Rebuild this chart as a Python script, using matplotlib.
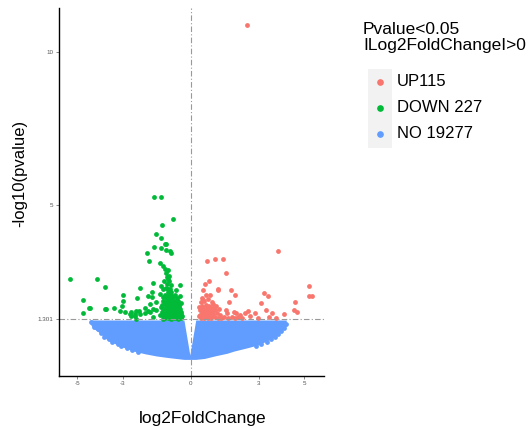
import matplotlib
matplotlib.use('Agg')
import matplotlib.pyplot as plt
from matplotlib.lines import Line2D
from matplotlib.patches import Rectangle

plt.rcParams['font.family'] = ['Liberation Sans', 'DejaVu Sans']

# significant down-regulated genes (log2FC, -log10 p)
down_x = [-5.32, -4.14, -3.77, -4.73, -4.73, -4.48, -4.42, -3.79, -3.71, -3.39,
          -3.13, -3.01, -2.98, -3.00, -2.91, -2.69, -2.37, -2.39, -2.25, -2.22,
          -2.03, -1.86, -1.81, -1.66, -2.64, -2.45,
          -1.62, -1.30, -0.79, -1.25, -1.53, -1.31, -1.61, -1.14, -1.10, -1.29,
          -1.11, -0.91, -0.88, -1.94, -1.84, -1.37, -1.22, -1.10, -1.04, -1.19,
          -0.96, -1.66, -1.29, -1.10, -0.85, -0.48, -1.72, -1.37, -0.93, -0.63,
          -1.72, -1.22, -0.78, -0.48, -1.81, -1.51, -1.15, -0.78, -1.88, -1.54,
          -1.29, -0.93, -0.56, -2.28, -2.03, -2.45, -2.64, -2.39, -1.66, -1.37,
          -1.07, -0.70, -0.48, -1.22, -0.85, -0.56,
          -1.15, -1.00, -0.90, -0.75, -0.65, -0.50, -0.42,
          -1.20, -1.05, -0.95, -0.80, -0.60, -0.45, -0.40,
          -1.25, -1.10, -0.98, -0.85, -0.72, -0.62, -0.50, -0.42,
          -1.20, -1.05, -0.88, -0.75, -0.65, -0.48,
          -1.25, -1.10, -0.98, -0.85, -0.70, -0.60, -0.50,
          -1.20, -1.05, -0.92, -0.70, -0.58,
          -1.15, -1.00, -0.85, -0.70, -1.20, -1.00, -0.90, -1.05,
          -1.00, -1.12,
          -1.08, -0.93, -0.82, -0.68, -0.55, -0.45, -1.13, -0.97, -0.87,
          -0.77, -0.67, -0.53, -0.44, -1.02, -0.90, -0.80, -0.66, -0.52,
          -1.08, -0.95, -0.82, -0.62, -0.50, -1.05, -0.92, -0.78, -0.64,
          -1.10, -0.96, -0.82, -0.98, -0.88, -1.02, -0.94, -0.60, -0.43]
down_y = [2.62, 2.62, 2.36, 1.92, 1.50, 1.68, 1.68, 1.63, 1.63, 1.66,
          1.58, 1.72, 1.89, 2.10, 1.55, 1.46, 1.99, 1.57, 2.31, 1.46,
          1.66, 2.05, 1.54, 1.64, 1.40, 1.42,
          5.28, 5.27, 4.55, 4.38, 4.07, 3.95, 3.65, 3.76, 3.74, 3.62,
          3.55, 3.53, 3.47, 3.45, 3.20, 3.12, 3.03, 2.80, 2.67, 2.56,
          2.56, 2.48, 2.38, 2.33, 2.41, 2.43, 2.19, 2.13, 2.19, 2.24,
          2.02, 2.02, 2.02, 2.05, 1.81, 1.86, 1.83, 1.86, 1.57, 1.61,
          1.70, 1.68, 1.70, 1.57, 1.50, 1.48, 1.54, 1.32, 1.37, 1.43,
          1.48, 1.50, 1.48, 1.32, 1.32, 1.32,
          1.33, 1.33, 1.33, 1.33, 1.33, 1.33, 1.33,
          1.42, 1.42, 1.42, 1.42, 1.42, 1.42, 1.42,
          1.55, 1.55, 1.55, 1.55, 1.55, 1.55, 1.55, 1.55,
          1.65, 1.65, 1.65, 1.65, 1.65, 1.65,
          1.77, 1.77, 1.77, 1.77, 1.77, 1.77, 1.77,
          1.90, 1.90, 1.90, 1.90, 1.90,
          2.10, 2.10, 2.10, 2.10, 2.30, 2.30, 2.30, 2.45,
          2.90, 2.95,
          1.37, 1.37, 1.37, 1.37, 1.37, 1.37, 1.49, 1.49, 1.49,
          1.49, 1.49, 1.49, 1.49, 1.60, 1.60, 1.60, 1.60, 1.60,
          1.71, 1.71, 1.71, 1.71, 1.71, 1.84, 1.84, 1.84, 1.84,
          1.98, 1.98, 1.98, 2.20, 2.20, 2.62, 2.72, 1.98, 1.82]

# significant up-regulated genes
up_x = [2.49, 3.85, 0.72, 1.06, 1.44, 1.57, 0.81, 0.62, 1.18, 1.22,
        1.75, 0.54, 1.94, 0.66, 0.84, 1.69, 0.54, 1.89, 2.01, 2.38,
        2.52, 1.60, 2.16, 5.19, 5.21, 5.32, 3.23, 3.38, 3.08, 4.57,
        3.29, 4.55, 4.66, 3.58, 4.11, 2.82,
        0.45, 0.60, 0.75, 0.90, 1.05, 1.20, 1.35, 0.40, 0.55, 0.70,
        0.85, 1.00, 1.15, 1.30, 0.42, 0.58, 0.72, 0.90, 1.08, 1.25,
        0.50, 0.65, 0.80, 0.98, 1.12, 0.60, 0.75, 0.92, 0.45, 1.45,
        1.55, 1.80, 2.60, 2.25, 2.95, 3.45, 3.75, 0.35, 0.50,
        0.38, 0.52, 0.67, 0.82, 0.97, 0.48, 0.63, 0.78, 0.93, 0.56,
        0.70, 0.86, 1.02, 1.65, 1.95, 2.10]
up_y = [10.85, 3.52, 3.19, 3.27, 3.25, 2.82, 2.56, 2.46, 2.27, 2.29,
        2.24, 2.26, 2.08, 2.08, 2.08, 1.88, 1.92, 1.54, 1.50, 1.50,
        1.57, 1.50, 1.43, 2.37, 2.07, 2.05, 2.17, 2.06, 1.83, 1.87,
        1.59, 1.62, 1.55, 1.52, 1.46, 1.50,
        1.35, 1.33, 1.36, 1.34, 1.37, 1.34, 1.36, 1.45, 1.48, 1.44,
        1.50, 1.46, 1.52, 1.45, 1.60, 1.62, 1.58, 1.65, 1.60, 1.63,
        1.75, 1.78, 1.72, 1.80, 1.74, 1.90, 1.95, 1.88, 1.85, 1.38,
        1.62, 1.38, 1.40, 1.36, 1.36, 1.38, 1.35, 1.70, 2.00,
        1.40, 1.40, 1.41, 1.40, 1.41, 1.55, 1.54, 1.53, 1.55, 1.68,
        1.68, 1.70, 1.69, 1.36, 1.35, 1.37]

# non-significant genes: dense cloud envelope
no_env_x = [-4.42, -4.30, -4.00, -3.65, -3.30, -3.00, -2.46, -2.00, -1.50, -1.00,
            -0.30, -0.04, 0.22, 0.60, 1.10, 1.60, 1.90, 2.50, 3.00, 3.40,
            3.80, 4.00, 4.20]
no_env_low = [1.15, 1.02, 0.86, 0.62, 0.50, 0.40, 0.26, 0.18, 0.11, 0.06,
              0.00, 0.00, 0.00, 0.03, 0.12, 0.20, 0.27, 0.38, 0.48, 0.62,
              0.78, 0.92, 1.07]
no_env_high = [1.28, 1.28, 1.28, 1.28, 1.28, 1.28, 1.28, 1.28, 1.28, 1.28,
               1.28, 0.14, 1.28, 1.28, 1.28, 1.28, 1.28, 1.28, 1.28, 1.28,
               1.28, 1.28, 1.28]
# scattered non-significant genes on the ragged outer edge
no_x = [-4.38, -4.25, -4.10, -3.95, -3.80, -3.60, -3.45, -3.20, -3.05, -2.80,
        -2.60, -2.30, 4.18, 4.12, 3.95, 3.85, 3.70, 3.55, 3.35, 3.10, 2.85]
no_y = [1.22, 1.05, 0.98, 0.85, 0.74, 0.66, 0.55, 0.50, 0.42, 0.36,
        0.30, 0.25, 1.15, 1.02, 0.92, 0.82, 0.73, 0.65, 0.58, 0.50, 0.43]

legend_labels = ['UP115', 'DOWN 227', 'NO 19277']
colors = ['#F8766D', '#00BA38', '#619CFF']
p_cut = 1.301

fig = plt.figure(figsize=(5.3, 4.28), dpi=100)
ax = fig.add_axes([0.1115, 0.1222, 0.4998, 0.858])

ax.fill_between(no_env_x, no_env_low, no_env_high, color=colors[2], lw=0)
ax.scatter(no_x, no_y, s=12, color=colors[2], linewidths=0)
ax.scatter(down_x, down_y, s=12, color=colors[1], linewidths=0)
ax.scatter(up_x, up_y, s=12, color=colors[0], linewidths=0)

ax.axhline(p_cut, color='#999999', lw=0.8, ls=(0, (5, 2, 1, 2)))
ax.axvline(0, color='#999999', lw=0.8, ls=(0, (5, 2, 1, 2)))

ax.set_xlim(-5.79, 5.86)
ax.set_ylim(-0.53, 11.4)
ax.set_xticks([-5, -3, 0, 3, 5])
ax.set_xticklabels(['-5', '-3', '0', '3', '5'])
ax.set_yticks([p_cut, 5, 10])
ax.set_yticklabels(['1.301', '5', '10'])
ax.tick_params(length=2, width=0.5, color='#555555', labelsize=4.5,
               labelcolor='#555555', pad=2)
for s in ['top', 'right']:
    ax.spines[s].set_visible(False)
for s in ['left', 'bottom']:
    ax.spines[s].set_linewidth(1.0)

fig.text(20 / 530, 1 - 173 / 428, '-log10(pvalue)', rotation=90,
         ha='center', va='center', fontsize=12)
fig.text(203 / 530, 1 - 419 / 428, 'log2FoldChange', ha='center',
         va='center', fontsize=12.5)

# legend
fig.text(363 / 530, 1 - 22 / 428, 'Pvalue<0.05\nILog2FoldChangeI>0',
         ha='left', va='top', fontsize=12.5, linespacing=1.1)
fig.add_artist(Rectangle((368 / 530, 1 - 148 / 428), 24 / 530, 79 / 428,
                         transform=fig.transFigure, facecolor='#F2F2F2',
                         edgecolor='none'))
for lab, c, yy in zip(legend_labels, colors, [82, 108, 134]):
    fig.add_artist(Line2D([380 / 530], [1 - yy / 428], marker='o', ms=3.8,
                          color=c, lw=0, transform=fig.transFigure))
    fig.text(397 / 530, 1 - yy / 428, lab, ha='left', va='center', fontsize=12)

fig.savefig('out.png', dpi=100)
